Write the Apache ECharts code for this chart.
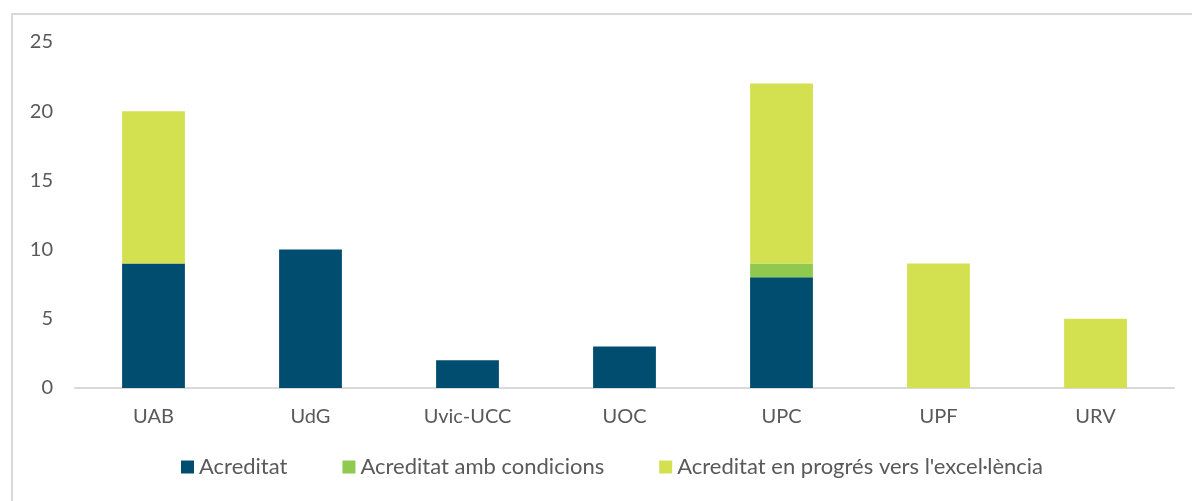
<!DOCTYPE html>
<html>
<head>
<meta charset="utf-8">
<script src="https://cdn.jsdelivr.net/npm/echarts@6/dist/echarts.min.js"></script>
<style>
  html, body { margin: 0; padding: 0; background: #fff; }
  #chart { width: 1192px; height: 501px; }
</style>
</head>
<body>
<div id="chart"></div>
<script>
const categories = ['UAB', 'UdG', 'Uvic-UCC', 'UOC', 'UPC', 'UPF', 'URV']
const acreditat = [9, 10, 2, 3, 8, 0, 0]
const ambCondicions = [0, 0, 0, 0, 1, 0, 0]
const enProgres = [11, 0, 0, 0, 13, 9, 5]

const textColor = '#595959'
const font = 'Lato, "Open Sans", sans-serif'

const chart = echarts.init(document.getElementById('chart'))

function barSeries (name, data, color) {
  return {
    name: name,
    type: 'bar',
    stack: 'total',
    barWidth: '40%',
    itemStyle: { color: color },
    data: data.map(v => (v === 0 ? null : v))
  }
}

chart.setOption({
  animation: false,
  textStyle: { fontFamily: font },
  graphic: [{
    type: 'rect',
    shape: { x: 12, y: 14, width: 1200, height: 520 },
    style: { fill: 'none', stroke: '#d9d9d9', lineWidth: 2 },
    silent: true
  }],
  grid: { left: 75, right: 18, top: 42, bottom: 113 },
  xAxis: {
    type: 'category',
    data: categories,
    axisTick: { show: false },
    axisLine: { lineStyle: { color: '#d9d9d9', width: 2 } },
    axisLabel: { color: textColor, fontSize: 20, margin: 19, fontFamily: font }
  },
  yAxis: {
    type: 'value',
    min: 0,
    max: 25,
    interval: 5,
    splitLine: { show: false },
    axisLine: { show: false },
    axisTick: { show: false },
    axisLabel: { color: textColor, fontSize: 20, margin: 22, fontFamily: font }
  },
  legend: {
    bottom: 18,
    left: 176,
    itemWidth: 13,
    itemHeight: 13,
    itemGap: 55,
    icon: 'rect',
    textStyle: { color: textColor, fontSize: 22, fontFamily: font },
    data: ['Acreditat', 'Acreditat amb condicions', "Acreditat en progrés vers l'excel·lència"]
  },
  series: [
    barSeries('Acreditat', acreditat, '#004d6f'),
    barSeries('Acreditat amb condicions', ambCondicions, '#8fc94e'),
    barSeries("Acreditat en progrés vers l'excel·lència", enProgres, '#d3e150')
  ]
})
</script>
</body>
</html>
